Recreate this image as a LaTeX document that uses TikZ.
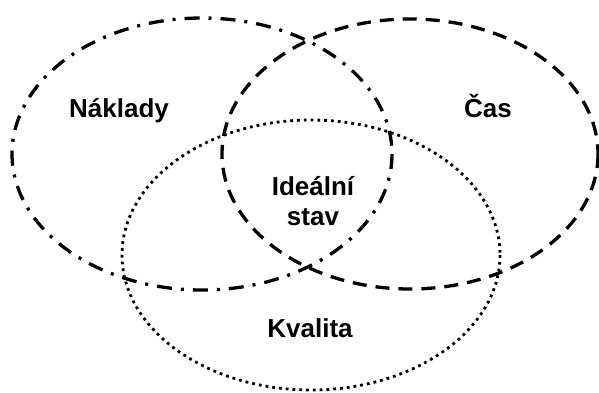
\documentclass[tikz,border=0pt]{standalone}
\usepackage{fontspec}
\setmainfont{Liberation Sans}
\begin{document}
\begin{tikzpicture}[x=1pt,y=-1pt,
  setline/.style={line width=3.3pt, line cap=butt},
  costline/.style={setline, dash pattern=on 15pt off 9pt on 3pt off 9pt},
  timeline/.style={setline, dash pattern=on 14pt off 9pt},
  qualityline/.style={line width=2.8pt, line cap=butt, dash pattern=on 2.8pt off 4pt},
  lbl/.style={font=\fontsize{26}{30}\selectfont\bfseries, inner sep=0pt, align=center}]
  \useasboundingbox (0,0) rectangle (599,392);
  % three overlapping sets
  \draw[costline] (202,154) ellipse [x radius=190, y radius=136];
  \draw[timeline] (410,154) ellipse [x radius=188, y radius=135];
  \draw[qualityline] (311,255) ellipse [x radius=189, y radius=135];
  % set labels
  \node[lbl, anchor=base] (naklady) at (119,117) {Náklady};
  \node[lbl, anchor=base] (cas) at (488,117) {Čas};
  \node[lbl] (idealni) at (313,201) {Ideální\\stav};
  \node[lbl, anchor=base] (kvalita) at (310,337) {Kvalita};
\end{tikzpicture}
\end{document}
